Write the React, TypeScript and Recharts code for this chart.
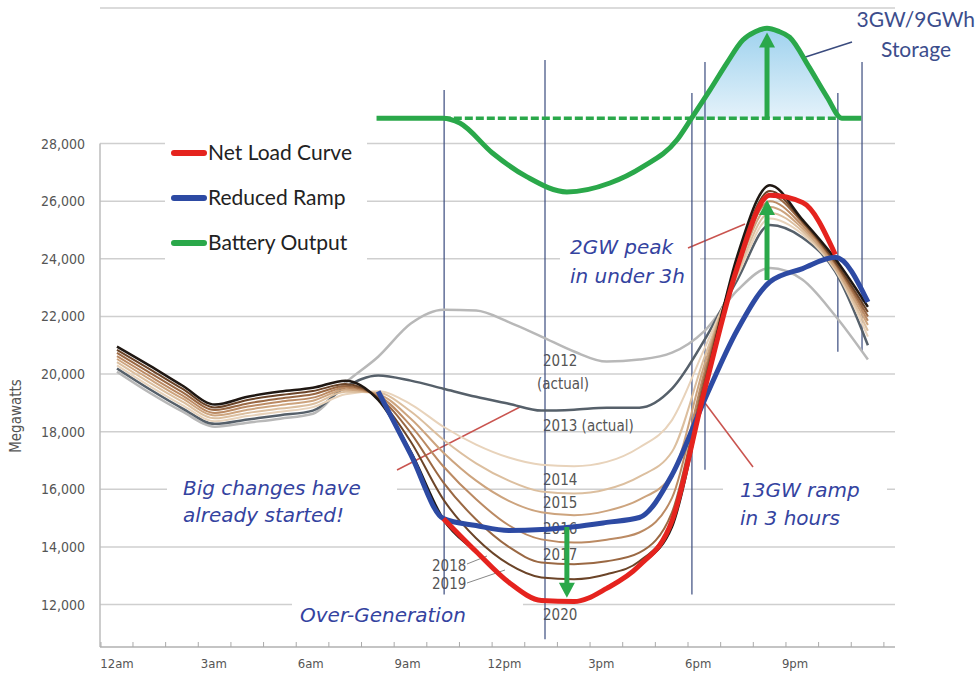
import React from 'react'
import { ComposedChart, Line, Area, XAxis, YAxis, CartesianGrid, ReferenceLine, Customized } from 'recharts'

// hour of day (0 = 12am)
const HOURS = [0, 1, 2, 3, 4, 5, 6, 7, 8, 9, 10, 11, 12, 13, 14, 15, 16, 17, 18, 19, 20, 21, 22, 23]

// net load per year, MW
const LOAD_2012 = [20080, 19350, 18700, 18170, 18310, 18450, 18620, 19700, 20600, 21750, 22230, 22200, 21800, 21300, 20780, 20430, 20500, 20740, 21500, 22900, 23680, 23270, 22020, 20500]
const LOAD_2013 = [20190, 19470, 18810, 18270, 18420, 18570, 18730, 19550, 19950, 19770, 19490, 19210, 18970, 18730, 18760, 18830, 18830, 19490, 21190, 23270, 25170, 24730, 23550, 21000]
const LOAD_2014 = [20300, 19580, 18920, 18360, 18540, 18690, 18850, 19300, 19400, 18950, 18170, 17550, 17100, 16850, 16800, 16950, 17450, 18400, 20900, 23400, 25400, 24850, 23600, 21300]
const LOAD_2015 = [20410, 19700, 19040, 18460, 18650, 18800, 18960, 19380, 19350, 18700, 17720, 16900, 16300, 15920, 15850, 16000, 16440, 17300, 20600, 23500, 25600, 24950, 23650, 21500]
const LOAD_2016 = [20520, 19820, 19150, 18560, 18760, 18920, 19070, 19450, 19300, 18450, 17270, 16300, 15600, 15200, 15100, 15250, 15640, 16500, 20350, 23650, 25800, 25050, 23700, 21700]
const LOAD_2017 = [20620, 19930, 19260, 18650, 18870, 19040, 19180, 19520, 19250, 18200, 16790, 15650, 14750, 14260, 14150, 14250, 14500, 15700, 20100, 23750, 26000, 25150, 23800, 21850]
const LOAD_2018 = [20730, 20050, 19370, 18750, 18980, 19150, 19300, 19580, 19200, 17950, 16230, 14950, 14000, 13460, 13400, 13500, 13800, 15200, 19900, 23850, 26200, 25250, 23850, 22000]
const LOAD_2019 = [20840, 20170, 19490, 18840, 19100, 19270, 19410, 19650, 19150, 17650, 15640, 14300, 13400, 12940, 12880, 13050, 13500, 14900, 19700, 23950, 26350, 25300, 23900, 22150]
const LOAD_2020 = [20950, 20290, 19600, 18940, 19210, 19390, 19520, 19770, 19100, 17300, 14950, 13820, 12770, 12140, 12100, 12560, 13350, 14700, 19500, 24100, 26550, 25350, 24000, 22330]

const NET_LOAD_HOURS = [10, 11, 12, 13, 14, 15, 16, 17, 18, 19, 20, 21, 22]
const NET_LOAD = [14980, 13840, 12770, 12140, 12100, 12560, 13350, 14900, 19450, 23700, 26200, 25950, 24150]

const RAMP_HOURS = [8, 9, 10, 11, 12, 13, 14, 15, 16, 17, 18, 19, 20, 21, 22, 23]
const REDUCED_RAMP = [19400, 17200, 14980, 14740, 14570, 14600, 14700, 14850, 15020, 16500, 19110, 21530, 23200, 23660, 24050, 22500]

const BATTERY_HOURS = [7.95, 9.98, 10.5, 11.5, 12.56, 13.78, 15.1, 16.1, 17.15, 17.6, 18.16, 18.68, 19.17, 19.55, 19.91, 20.25, 20.6, 21.2, 21.75, 22.2, 22.8]
const BATTERY_MW = [28880, 28880, 28710, 27670, 26840, 26320, 26630, 27190, 28120, 28880, 29850, 30790, 31590, 31880, 32000, 31900, 31690, 30650, 29610, 28880, 28880]
const BATTERY_BASE = 28880

const GUIDE_HOURS = [10.02, 13.11, 17.61, 18.01, 22.08, 22.82]
const GUIDE_TOP = [29860, 30900, 29750, 30830, 29750, 30830]
const GUIDE_BOTTOM = [12350, 10790, 12350, 16680, 20770, 20770]

const Y_TICKS = [12000, 14000, 16000, 18000, 20000, 22000, 24000, 26000, 28000]
const TICK_HOURS = [0, 3, 6, 9, 12, 15, 18, 21]
const TICK_LABELS = ['12am', '3am', '6am', '9am', '12pm', '3pm', '6pm', '9pm']

const X_MIN = -0.52
const X_MAX = 23.83
const Y_MIN = 10525
const Y_MAX = 32703

const GREEN = '#2aa84a'
const RED = '#e5231e'
const BLUE = '#2d4aa3'
const NAVY = '#3a4b7e'
const NOTE = '#3443a0'
const AXIS_FONT = "'DejaVu Sans Condensed', 'Liberation Sans Narrow', sans-serif"

const YEARS = [
  { key: 'y2012', values: LOAD_2012, color: '#b8b8b8', width: 2.5 },
  { key: 'y2013', values: LOAD_2013, color: '#56606a', width: 2.5 },
  { key: 'y2014', values: LOAD_2014, color: '#e8d3bb', width: 2 },
  { key: 'y2015', values: LOAD_2015, color: '#dcbf9f', width: 2 },
  { key: 'y2016', values: LOAD_2016, color: '#cda47e', width: 2 },
  { key: 'y2017', values: LOAD_2017, color: '#bb8a63', width: 2 },
  { key: 'y2018', values: LOAD_2018, color: '#9a6843', width: 2 },
  { key: 'y2019', values: LOAD_2019, color: '#6b4428', width: 2 },
  { key: 'y2020', values: LOAD_2020, color: '#1f1712', width: 2.5 },
]

const rows = HOURS.map((h, i) => {
  const row: Record<string, number | undefined> = { h }
  YEARS.forEach((y) => {
    row[y.key] = y.values[i]
  })
  const n = NET_LOAD_HOURS.indexOf(h)
  row.net = n >= 0 ? NET_LOAD[n] : undefined
  const r = RAMP_HOURS.indexOf(h)
  row.ramp = r >= 0 ? REDUCED_RAMP[r] : undefined
  return row
})

const batteryRows = BATTERY_HOURS.map((h, i) => ({ h, mw: BATTERY_MW[i] }))
const humpRows = batteryRows.filter((d) => d.h >= 17.6 && d.h <= 22.2)

const XTick = (props: any) => {
  const { x, y, payload } = props
  const idx = TICK_HOURS.indexOf(payload.value)
  // the printed labels sit on a slightly tighter spacing than the hourly grid
  const lx = x - payload.value * 0.36
  return (
    <g>
      {payload.value === 0 && <line x1={x - 16} y1={y} x2={x - 16} y2={y - 5} stroke="#aaa" />}
      <line x1={x + 16} y1={y} x2={x + 16} y2={y - 5} stroke="#aaa" />
      {idx >= 0 && (
        <text x={lx} y={y + 21} textAnchor="middle" fontSize={13} fill="#555" fontFamily={AXIS_FONT}>
          {TICK_LABELS[idx]}
        </text>
      )}
    </g>
  )
}

const YTick = (props: any) => {
  const { x, y, payload } = props
  return (
    <text x={x - 15} y={y + 5} textAnchor="end" fontSize={14} fill="#555" fontFamily={AXIS_FONT}>
      {payload.value.toLocaleString('en-US')}
    </text>
  )
}

const arrowShape = (props: any) => {
  const { x1, y1, x2, y2 } = props
  const dir = y2 > y1 ? 1 : -1
  return (
    <g>
      <line x1={x1} y1={y1} x2={x2} y2={y2 - dir * 10} stroke={GREEN} strokeWidth={5} />
      <polygon points={`${x2},${y2} ${x2 - 8},${y2 - dir * 15} ${x2 + 8},${y2 - dir * 15}`} fill={GREEN} />
    </g>
  )
}

const Defs = () => (
  <defs>
    <linearGradient id="hump" x1="0" y1="0" x2="0" y2="1">
      <stop offset="0%" stopColor="#9fd2ee" />
      <stop offset="100%" stopColor="#e4f2fa" />
    </linearGradient>
  </defs>
)

// white patches behind the callout texts and the legend
const Boxes = () => (
  <g fill="#fff">
    <rect x={165} y={128} width={202} height={137} />
    <rect x={560} y={230} width={140} height={62} />
    <rect x={167} y={468} width={230} height={65} />
    <rect x={723} y={470} width={164} height={62} />
    <rect x={292} y={594} width={231} height={38} />
  </g>
)

const YearLabels = () => (
  <g fontFamily={AXIS_FONT} fontSize={15} fill="#555">
    <text x={543} y={366}>2012</text>
    <text x={537} y={389}>(actual)</text>
    <text x={543} y={431}>2013 (actual)</text>
    <text x={543} y={485}>2014</text>
    <text x={543} y={508}>2015</text>
    <text x={543} y={534}>2016</text>
    <text x={543} y={560}>2017</text>
    <text x={432} y={571}>2018</text>
    <text x={432} y={589}>2019</text>
    <text x={543} y={620}>2020</text>
    <line x1={467} y1={564} x2={487} y2={556} stroke="#888" />
    <line x1={467} y1={583} x2={505} y2={570} stroke="#888" />
  </g>
)

const Notes = () => (
  <g>
    <line x1={397} y1={470} x2={520} y2={407} stroke="#c9544f" strokeWidth={1.5} />
    <line x1={688} y1={248} x2={745} y2={224} stroke="#c9544f" strokeWidth={1.5} />
    <line x1={753} y1={467} x2={705} y2={403} stroke="#c9544f" strokeWidth={1.5} />
    <line x1={790} y1={62} x2={852} y2={42} stroke={NAVY} strokeWidth={1.5} />
    <g fontFamily="'DejaVu Sans', sans-serif" fontStyle="italic" fontSize={20} fill={NOTE}>
      <text x={183} y={495}>Big changes have</text>
      <text x={183} y={522}>already started!</text>
      <text x={300} y={622}>Over-Generation</text>
      <text x={570} y={254}>2GW peak</text>
      <text x={570} y={283}>in under 3h</text>
      <text x={740} y={497}>13GW ramp</text>
      <text x={740} y={525}>in 3 hours</text>
    </g>
    <g fontFamily="Lato, sans-serif" fontSize={21} fill="#3c4d8c">
      <text x={975} y={27} textAnchor="end">3GW/9GWh</text>
      <text x={916} y={57} textAnchor="middle">Storage</text>
    </g>
    <text x={21} y={416} transform="rotate(-90 21 416)" textAnchor="middle" fontSize={15} fill="#555" fontFamily={AXIS_FONT}>
      Megawatts
    </text>
    <g fontFamily="Lato, sans-serif" fontSize={21} fill="#222" strokeLinecap="round">
      <line x1={174} y1={153} x2={204} y2={153} stroke={RED} strokeWidth={6} />
      <text x={208} y={160}>Net Load Curve</text>
      <line x1={174} y1={198} x2={204} y2={198} stroke={BLUE} strokeWidth={6} />
      <text x={208} y={205}>Reduced Ramp</text>
      <line x1={174} y1={243} x2={204} y2={243} stroke={GREEN} strokeWidth={6} />
      <text x={208} y={250}>Battery Output</text>
    </g>
  </g>
)

export default function App() {
  return (
    <div style={{ position: 'absolute', left: 0, top: 0, width: 977, height: 677, background: '#fff' }}>
      <ComposedChart width={977} height={677} data={rows} margin={{ top: 8, right: 82, bottom: 0, left: 0 }}>
        <Customized component={<Defs />} />
        <CartesianGrid horizontal vertical={false} stroke="#cfcfcf" strokeWidth={1.5} />
        <XAxis
          dataKey="h"
          type="number"
          domain={[X_MIN, X_MAX]}
          ticks={HOURS}
          interval={0}
          tick={<XTick />}
          tickLine={false}
          tickSize={0}
          tickMargin={0}
          height={30}
          stroke="#bdbdbd"
          strokeWidth={1.5}
          allowDataOverflow
        />
        <YAxis
          type="number"
          domain={[Y_MIN, Y_MAX]}
          ticks={Y_TICKS}
          width={100}
          axisLine={false}
          tickLine={false}
          tickSize={0}
          tickMargin={0}
          tick={<YTick />}
          allowDataOverflow
        />
        <ReferenceLine
          segment={[{ x: X_MIN, y: Y_MIN }, { x: X_MIN, y: 28000 }]}
          stroke="#bdbdbd"
          strokeWidth={1.5}
          ifOverflow="visible"
        />
        {GUIDE_HOURS.map((h, i) => (
          <ReferenceLine
            key={`guide-${i}`}
            segment={[{ x: h, y: GUIDE_TOP[i] }, { x: h, y: GUIDE_BOTTOM[i] }]}
            stroke={NAVY}
            strokeWidth={1.2}
            ifOverflow="visible"
          />
        ))}
        <Customized component={<Boxes />} />
        {YEARS.map((y) => (
          <Line
            key={y.key}
            dataKey={y.key}
            type="monotone"
            stroke={y.color}
            strokeWidth={y.width}
            dot={false}
            activeDot={false}
            isAnimationActive={false}
          />
        ))}
        <Area
          data={humpRows}
          dataKey="mw"
          type="monotone"
          baseValue={BATTERY_BASE}
          stroke="none"
          fill="url(#hump)"
          fillOpacity={1}
          isAnimationActive={false}
        />
        <ReferenceLine
          segment={[{ x: 9.98, y: BATTERY_BASE }, { x: 22.2, y: BATTERY_BASE }]}
          stroke={GREEN}
          strokeWidth={3.5}
          strokeDasharray="8 3"
          ifOverflow="visible"
        />
        <Line
          data={batteryRows}
          dataKey="mw"
          type="monotone"
          stroke={GREEN}
          strokeWidth={5}
          dot={false}
          activeDot={false}
          isAnimationActive={false}
        />
        <Customized component={<YearLabels />} />
        <Line dataKey="ramp" type="monotone" stroke={BLUE} strokeWidth={5} dot={false} activeDot={false} isAnimationActive={false} />
        <Line dataKey="net" type="monotone" stroke={RED} strokeWidth={5} dot={false} activeDot={false} isAnimationActive={false} />
        <ReferenceLine segment={[{ x: 19.91, y: BATTERY_BASE }, { x: 19.91, y: 31850 }]} shape={arrowShape} ifOverflow="visible" />
        <ReferenceLine segment={[{ x: 19.91, y: 23260 }, { x: 19.91, y: 26040 }]} shape={arrowShape} ifOverflow="visible" />
        <ReferenceLine segment={[{ x: 13.78, y: 14690 }, { x: 13.78, y: 12230 }]} shape={arrowShape} ifOverflow="visible" />
        <Customized component={<Notes />} />
      </ComposedChart>
    </div>
  )
}
